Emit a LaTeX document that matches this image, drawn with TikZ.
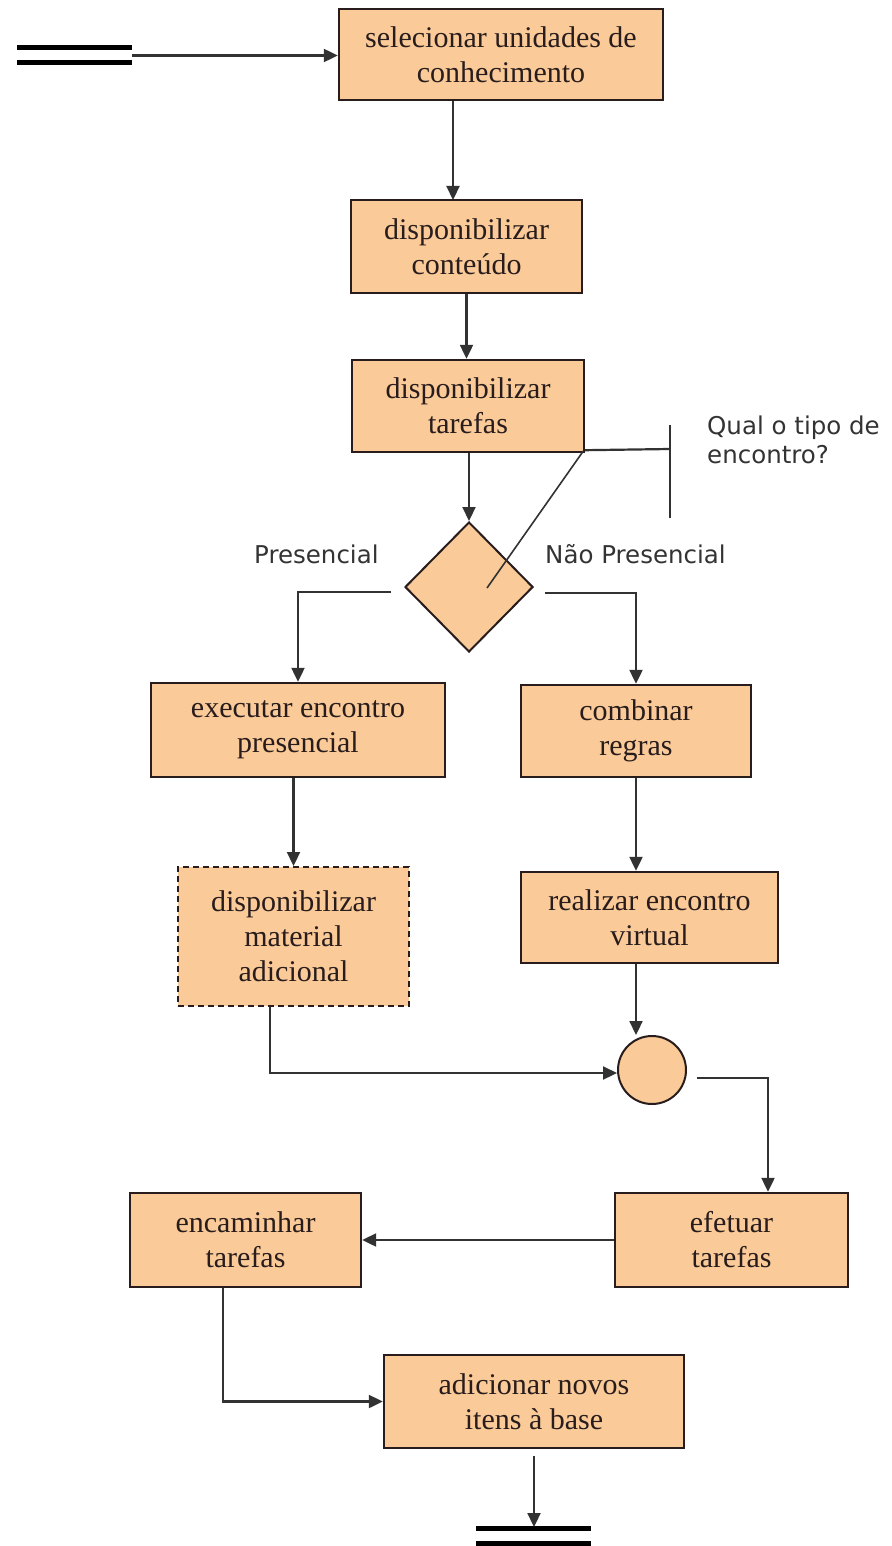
\documentclass[tikz,border=0pt]{standalone}
\usepackage{fontspec}
\setmainfont{Liberation Serif}
\newfontfamily\labelfont{DejaVu Sans}
\usetikzlibrary{arrows.meta,shapes.geometric,calc}

\definecolor{peach}{RGB}{250,202,152}
\definecolor{ink}{RGB}{40,28,28}
\definecolor{wire}{RGB}{50,50,50}

\tikzset{
  act/.style={draw=ink, line width=2.4pt, fill=peach, inner sep=0pt,
    align=center, text=ink, font=\fontsize{30}{35}\selectfont},
  optact/.style={act, dash pattern=on 6pt off 4pt, line width=2pt},
  choice/.style={shape=diamond, draw=ink, line width=2pt, fill=peach,
    inner sep=0pt, minimum width=128pt, minimum height=130pt},
  merge/.style={shape=circle, draw=ink, line width=2pt, fill=peach,
    inner sep=0pt, minimum size=68pt},
  arr/.style={draw=wire, line width=2.2pt,
    -{Triangle[length=14pt,width=13pt]}},
  wireline/.style={draw=wire, line width=2.2pt},
  bar/.style={draw=black, line width=5pt},
  lbl/.style={font=\labelfont\fontsize{24.5}{29}\selectfont, text=black!80,
    inner sep=0pt}
}

\begin{document}
\begin{tikzpicture}[x=1pt,y=-1pt]
\useasboundingbox (0,0) rectangle (891,1546);

% activities
\node[act, minimum width=324pt, minimum height=91pt] (b1) at (501,54.5)
  {selecionar unidades de\\conhecimento};
\node[act, minimum width=231pt, minimum height=93pt] (b2) at (466.5,246.5)
  {disponibilizar\\conteúdo};
\node[act, minimum width=232pt, minimum height=92pt] (b3) at (468,406)
  {disponibilizar\\tarefas};
\node[choice] (dec) at (469,587) {};
\node[act, minimum width=294pt, minimum height=94pt] (b4) at (298,730)
  {executar encontro\\presencial};
\node[act, minimum width=230pt, minimum height=92pt] (b5) at (636,731)
  {combinar\\regras};
\node[optact, minimum width=231pt, minimum height=139pt] (b6) at (293.5,936.5)
  {disponibilizar\\material\\adicional};
\node[act, minimum width=257pt, minimum height=91pt] (b7) at (649.5,917.5)
  {realizar encontro\\virtual};
\node[merge] (join) at (652,1070) {};
\node[act, minimum width=233pt, minimum height=94pt] (b8) at (731.5,1240)
  {efetuar\\tarefas};
\node[act, minimum width=231pt, minimum height=94pt] (b9) at (245.5,1240)
  {encaminhar\\tarefas};
\node[act, minimum width=300pt, minimum height=93pt] (b10) at (534,1401.5)
  {adicionar novos\\itens à base};

% start and end bars
\draw[bar] (17,48) -- (132,48);
\draw[bar] (17,63) -- (132,63);
\coordinate (src) at (132,55.5);
\draw[bar] (476,1528) -- (591,1528);
\draw[bar] (476,1543) -- (591,1543);
\coordinate (sink) at (534,1527);

% guard labels
\node[lbl, anchor=base west] (lpres) at (254,563) {Presencial};
\node[lbl, anchor=base west] (lnpres) at (545,563) {Não Presencial};

% note on the decision
\coordinate (notejoin) at (670,449);
\coordinate (notetop) at (670,425);
\coordinate (notebot) at (670,518);
\coordinate (notetip) at (487,588);
\draw[wireline] ([yshift=3pt]b3.south east) -- (notejoin);
\draw[wireline] (notetop) -- (notebot);
\draw[draw=wire, line width=1.6pt] ([xshift=-2pt,yshift=2pt]b3.south east) -- (notetip);
\node[lbl, anchor=base west, align=left] (note) at (707,463)
  {Qual o tipo de\\encontro?};

% flow
\coordinate (c12) at (453,200);
\draw[arr] (src) -- (src -| b1.west);
\draw[arr] (b1.south -| c12) -- (c12);
\draw[arr] (b2.south) -- (b2.south |- b3.north);
\draw[arr] (dec.north |- b3.south) -- (dec.north);
\draw[arr] ([shift={(-13,5)}]dec.west) -| (b4.north);
\draw[arr] ([shift={(11,6)}]dec.east) -| (b5.north);
\draw[arr] (b4.south -| b6.north) -- (b6.north);
\draw[arr] (b5.south) -- (b5.south |- b7.north);
\coordinate (c7j) at (636,1035);
\draw[arr] (b7.south -| c7j) -- (c7j);
\draw[arr] ([xshift=-23.5pt]b6.south) |- ([yshift=-3pt]join.west);
\draw[arr] ([shift={(10,8)}]join.east) -| ([xshift=36.5pt]b8.north);
\draw[arr] (b8.west) -- (b9.east);
\draw[arr] ([xshift=-22.5pt]b9.south) |- (b10.west);
\draw[arr, shorten <=7pt] (b10.south) -- (sink);
\end{tikzpicture}
\end{document}
